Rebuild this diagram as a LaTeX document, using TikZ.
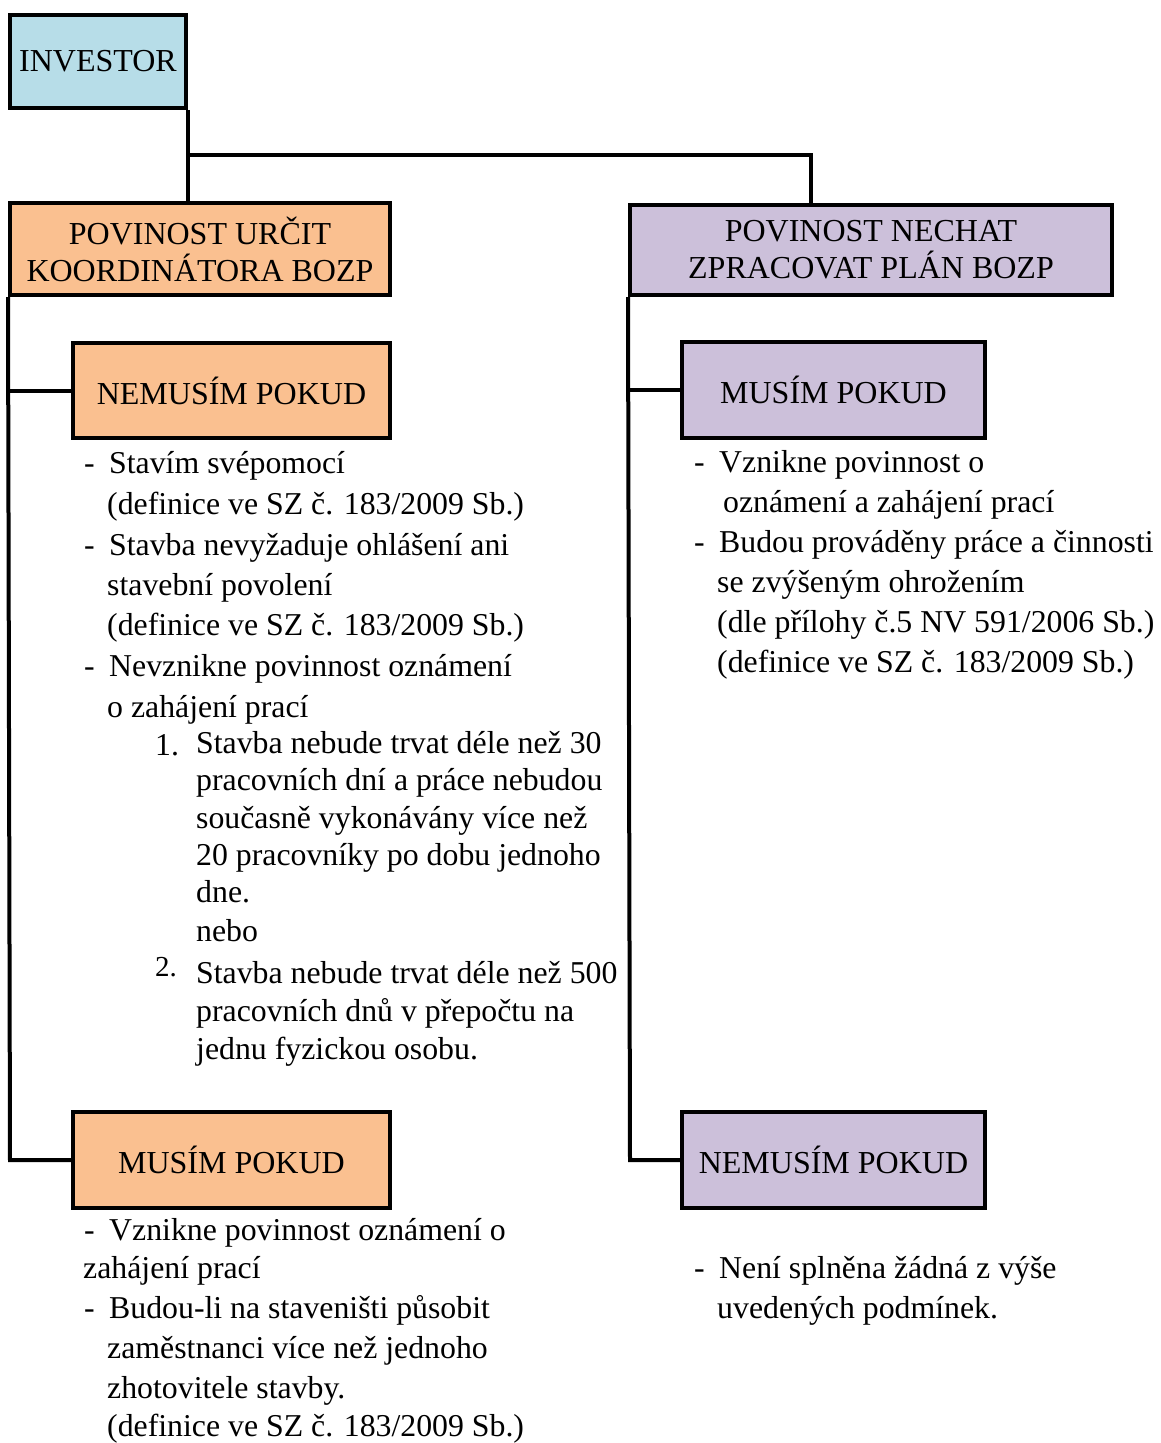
\documentclass[tikz,border=0pt]{standalone}
\usepackage{fontspec}
\setmainfont{Liberation Serif}
\definecolor{invblue}{HTML}{B7DDE8}
\definecolor{orangefill}{HTML}{FAC090}
\definecolor{purplefill}{HTML}{CCC0DA}
\tikzset{
  box/.style={draw=black, line width=4pt, align=center, inner sep=0pt,
    font=\fontsize{32}{37}\selectfont},
  conn/.style={draw=black, line width=4pt},
  txt/.style={anchor=base west, inner sep=0pt, font=\fontsize{31.8}{39}\selectfont},
}
\begin{document}
\begin{tikzpicture}[x=1pt,y=-1pt]
\useasboundingbox (0,0) rectangle (1160,1443);
% boxes
\node[box, fill=invblue, minimum width=176pt, minimum height=93pt] (inv) at (98,61.5) {INVESTOR};
\node[box, fill=orangefill, minimum width=380pt, minimum height=92pt] (pu) at (200,249) {POVINOST URČIT\\KOORDINÁTORA BOZP};
\node[box, fill=purplefill, minimum width=482pt, minimum height=90pt] (pn) at (871,250) {POVINOST NECHAT\\ZPRACOVAT PLÁN BOZP};
\node[box, fill=orangefill, minimum width=317pt, minimum height=95pt] (nl1) at (231.5,390.5) {NEMUSÍM POKUD};
\node[box, fill=purplefill, minimum width=303pt, minimum height=96pt] (mr1) at (833.5,390) {MUSÍM POKUD};
\node[box, fill=orangefill, minimum width=317pt, minimum height=96pt] (ml2) at (231.5,1160) {MUSÍM POKUD};
\node[box, fill=purplefill, minimum width=303pt, minimum height=96pt] (nr2) at (833.5,1160) {NEMUSÍM POKUD};
% connector coordinates
\coordinate (jA) at (186,155);
\coordinate (jB) at (811,155);
\coordinate (lt) at (10,1160);
\coordinate (rt) at (630,1160);
% connectors
\draw[conn] (inv.south east) -- (inv.south east |- pu.north);
\draw[conn] (jA) -- (jB) -- (jB |- pn.north);
\draw[conn] (pu.south west) -- (lt) -- (ml2.west);
\draw[conn] (pu.south west |- nl1.west) -- (nl1.west);
\draw[conn] (pn.south west) -- (rt) -- (nr2.west);
\draw[conn] (pn.south west |- mr1.west) -- (mr1.west);
% left top list
\node[txt] (d1) at (84,473) {-};
\node[txt] (l1) at (109,473) {Stavím svépomocí};
\node[txt] (l2) at (107,514) {(definice ve SZ č. 183/2009 Sb.)};
\node[txt] (d2) at (84,555) {-};
\node[txt] (l3) at (109,555) {Stavba nevyžaduje ohlášení ani};
\node[txt] (l4) at (107,595) {stavební povolení};
\node[txt] (l5) at (107,635) {(definice ve SZ č. 183/2009 Sb.)};
\node[txt] (d3) at (84,676) {-};
\node[txt] (l6) at (109,676) {Nevznikne povinnost oznámení};
\node[txt] (l7) at (107,717) {o zahájení prací};
\node[txt] (n1) at (155,755) {1.};
\node[txt] (l8) at (196,753) {Stavba nebude trvat déle než 30};
\node[txt] (l9) at (196,790) {pracovních dní a práce nebudou};
\node[txt] (l10) at (196,828) {současně vykonávány více než};
\node[txt] (l11) at (196,865) {20 pracovníky po dobu jednoho};
\node[txt] (l12) at (196,902) {dne.};
\node[txt] (l13) at (196,941) {nebo};
\node[txt, font=\fontsize{29}{35}\selectfont] (n2) at (155,976) {2.};
\node[txt] (l14) at (196,983) {Stavba nebude trvat déle než 500};
\node[txt] (l15) at (196,1021) {pracovních dnů v přepočtu na};
\node[txt] (l16) at (196,1059) {jednu fyzickou osobu.};
% right top list
\node[txt] (dr1) at (694,472) {-};
\node[txt] (r1) at (719,472) {Vznikne povinnost o};
\node[txt] (r2) at (723,512) {oznámení a zahájení prací};
\node[txt] (dr2) at (694,552) {-};
\node[txt] (r3) at (719,552) {Budou prováděny práce a činnosti};
\node[txt] (r4) at (717,592) {se zvýšeným ohrožením};
\node[txt] (r5) at (717,632) {(dle přílohy č.5 NV 591/2006 Sb.)};
\node[txt] (r6) at (717,672) {(definice ve SZ č. 183/2009 Sb.)};
% bottom left list
\node[txt] (db1) at (84,1240) {-};
\node[txt] (b1) at (109,1240) {Vznikne povinnost oznámení o};
\node[txt] (b2) at (83,1278) {zahájení prací};
\node[txt] (db2) at (84,1318) {-};
\node[txt] (b3) at (109,1318) {Budou-li na staveništi působit};
\node[txt] (b4) at (107,1358) {zaměstnanci více než jednoho};
\node[txt] (b5) at (107,1398) {zhotovitele stavby.};
\node[txt] (b6) at (107,1436) {(definice ve SZ č. 183/2009 Sb.)};
% bottom right list
\node[txt] (dn1) at (694,1278) {-};
\node[txt] (c1) at (719,1278) {Není splněna žádná z výše};
\node[txt] (c2) at (717,1318) {uvedených podmínek.};
\end{tikzpicture}
\end{document}
